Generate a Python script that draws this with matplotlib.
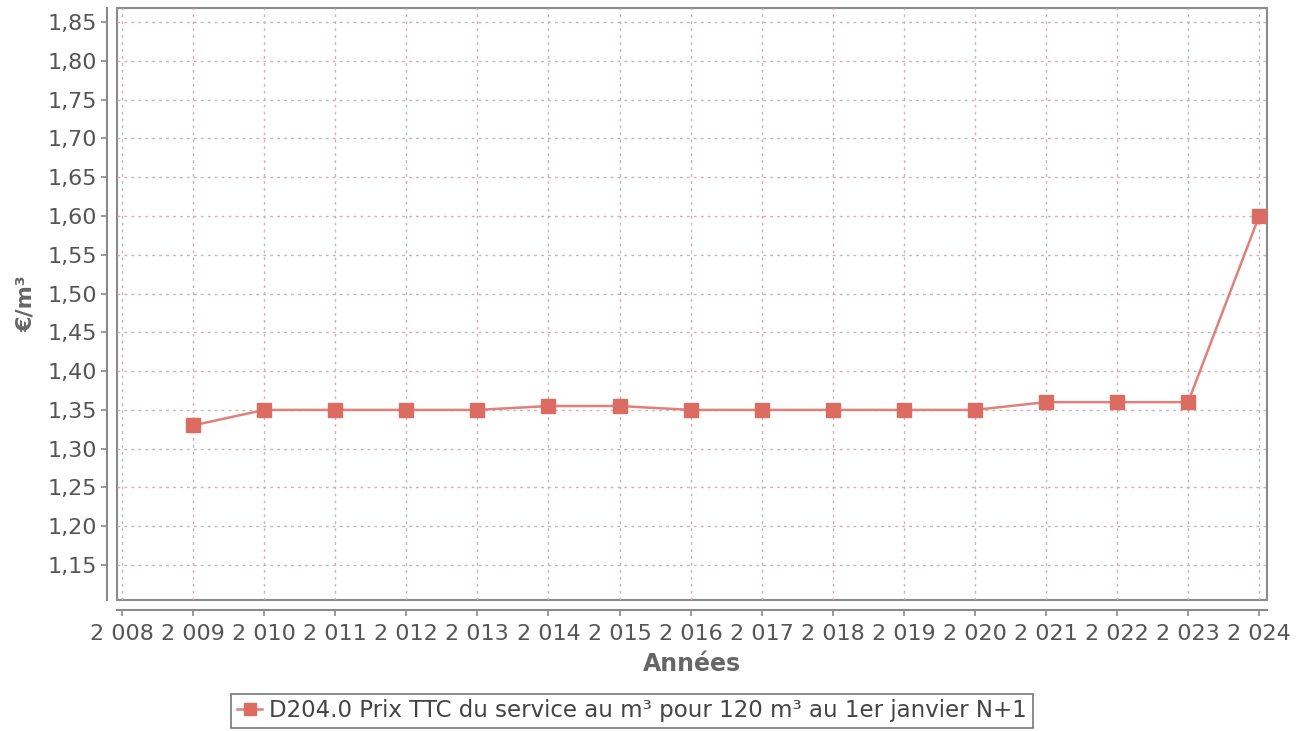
import matplotlib
matplotlib.use("Agg")
import matplotlib.pyplot as plt
from matplotlib.ticker import FixedLocator, FuncFormatter

years = [2009, 2010, 2011, 2012, 2013, 2014, 2015, 2016, 2017, 2018, 2019, 2020, 2021, 2022, 2023, 2024]
prices = [1.33, 1.35, 1.35, 1.35, 1.35, 1.355, 1.355, 1.35, 1.35, 1.35, 1.35, 1.35, 1.36, 1.36, 1.36, 1.60]
series_label = "D204.0 Prix TTC du service au m³ pour 120 m³ au 1er janvier N+1"
x_label = "Années"
y_label = "€/m³"
x_ticks = list(range(2008, 2025))
y_ticks = [1.15, 1.20, 1.25, 1.30, 1.35, 1.40, 1.45, 1.50, 1.55, 1.60, 1.65, 1.70, 1.75, 1.80, 1.85]

plt.rcParams['font.family'] = ['DejaVu Sans']
fig = plt.figure(figsize=(13.07, 7.31), dpi=100)
ax = fig.add_axes([117/1307, 1-600/731, (1267-117)/1307, (600-8)/731])

line_col = "#e0807a"
ax.plot(years, prices, color=line_col, lw=1.8, marker='s', markersize=10,
        markerfacecolor="#dc6b62", markeredgecolor="#dc6b62", label=series_label, zorder=3)

ax.set_xlim(2007.93, 2024.11)
ax.set_ylim(1.105, 1.868)
ax.xaxis.set_major_locator(FixedLocator(x_ticks))
ax.yaxis.set_major_locator(FixedLocator(y_ticks))
ax.xaxis.set_major_formatter(FuncFormatter(lambda v, p: f"{int(round(v)):,}".replace(",", " ")))
ax.yaxis.set_major_formatter(FuncFormatter(lambda v, p: f"{v:.2f}".replace(".", ",")))

ax.grid(True, color="#d2aeb5", linestyle=(0, (2, 3)), linewidth=1.0)
ax.set_axisbelow(True)

# frame of the plot area
ax.patch.set_edgecolor("#8a8a8a")
ax.patch.set_linewidth(1.5)
for s in ['top', 'right']:
    ax.spines[s].set_visible(False)
for s in ['left', 'bottom']:
    ax.spines[s].set_position(('outward', 7))
    ax.spines[s].set_color("#8a8a8a")
    ax.spines[s].set_linewidth(1.5)

ax.tick_params(axis='both', colors="#8a8a8a", labelcolor="#555555", labelsize=16, length=4, width=1.2)
ax.tick_params(axis='x', pad=6)

ax.set_xlabel(x_label, fontsize=17, fontweight='bold', color="#666666", labelpad=6)
ax.set_ylabel(y_label, fontsize=16, fontweight='bold', color="#666666", labelpad=8)

leg = fig.legend(loc='center', bbox_to_anchor=(632/1307, 1-711/731), frameon=True, fontsize=16.5,
                 fancybox=False, borderpad=0.25, handlelength=1.1, handletextpad=0.3, markerscale=0.8)
leg.get_frame().set_edgecolor("#555555")
leg.get_frame().set_linewidth(1.2)
for t in leg.get_texts():
    t.set_color("#444444")

fig.savefig("out.png", dpi=100)
